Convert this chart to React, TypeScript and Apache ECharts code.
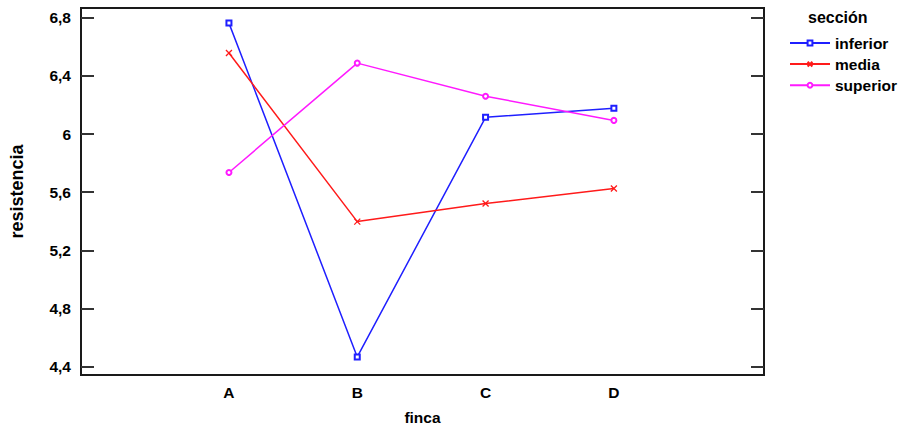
import React, { useEffect, useRef } from "react";
import * as echarts from "echarts";

const categories = ["A", "B", "C", "D"];
const seriesNames = ["inferior", "media", "superior"];
const inferior = [6.763, 4.467, 6.115, 6.178];
const media = [6.557, 5.398, 5.522, 5.626];
const superior = [5.736, 6.488, 6.26, 6.094];
const yTicks = [4.4, 4.8, 5.2, 5.6, 6.0, 6.4, 6.8];
const xTicks = [0, 1, 2, 3];

const FONT = "'Liberation Sans', Arial, sans-serif";

export default function App() {
  const ref = useRef<HTMLDivElement>(null);
  useEffect(() => {
    if (!ref.current) return;
    const chart = echarts.init(ref.current, null, { renderer: "svg" });
    const mk = (vals: number[]) => vals.map((v, i) => [i, v]);
    const xPath = "path://M0,0L10,10M10,0L0,10";
    const fmtY = (v: number) => {
      const r = Math.round(v * 10) / 10;
      return Math.abs(r - Math.round(r)) < 1e-9 ? String(Math.round(r)) : r.toFixed(1).replace(".", ",");
    };
    chart.setOption({
      animation: false,
      backgroundColor: "#ffffff",
      grid: {
        left: 81,
        right: 143,
        top: 8,
        bottom: 53,
        show: true,
        borderColor: "#1a1a1a",
        borderWidth: 2,
        backgroundColor: "transparent",
        outerBoundsMode: "none",
        containLabel: false,
      },
      graphic: [
        {
          type: "text",
          left: 808,
          top: 9,
          style: {
            text: "sección",
            font: `bold 16px ${FONT}`,
            fill: "#000",
          },
        },
      ],
      legend: {
        orient: "vertical",
        left: 789,
        top: 35,
        padding: 0,
        itemWidth: 40,
        itemHeight: 6,
        itemGap: 5.1,
        itemTextGap: 16,
        data: seriesNames,
        textStyle: {
          fontFamily: FONT,
          fontWeight: "bold",
          fontSize: 15.5,
          color: "#000",
        },
      },
      xAxis: {
        type: "value",
        min: -1.153,
        max: 4.17,
        name: "finca",
        nameLocation: "middle",
        nameGap: 34,
        nameMoveOverlap: false,
        nameTextStyle: {
          fontFamily: FONT,
          fontWeight: "bold",
          fontSize: 15.5,
          color: "#000",
          verticalAlign: "top",
        },
        axisLine: { show: true, onZero: false, lineStyle: { color: "#1a1a1a", width: 2 } },
        axisTick: { show: false },
        splitLine: { show: false },
        axisLabel: {
          customValues: xTicks,
          formatter: (v: number) => categories[Math.round(v)] ?? "",
          margin: 9,
          fontFamily: FONT,
          fontWeight: "bold",
          fontSize: 15.5,
          color: "#000",
        },
      },
      yAxis: [
        {
          type: "value",
          min: 4.343,
          max: 6.867,
          name: "resistencia",
          nameLocation: "middle",
          nameGap: 55,
          nameRotate: 90,
          nameMoveOverlap: false,
          nameTextStyle: {
            fontFamily: FONT,
            fontWeight: "bold",
            fontSize: 18,
            color: "#000",
          },
          axisLine: { show: true, onZero: false, lineStyle: { color: "#1a1a1a", width: 2 } },
          axisTick: {
            show: true,
            inside: true,
            length: 13,
            customValues: yTicks,
            lineStyle: { color: "#333", width: 2 },
          },
          splitLine: { show: false },
          axisLabel: {
            customValues: yTicks,
            formatter: fmtY,
            margin: 10,
            fontFamily: FONT,
            fontWeight: "bold",
            fontSize: 15.5,
            color: "#000",
          },
        },
        {
          type: "value",
          position: "right",
          min: 4.343,
          max: 6.867,
          axisLine: { show: true, onZero: false, lineStyle: { color: "#1a1a1a", width: 2 } },
          axisTick: {
            show: true,
            inside: true,
            length: 13,
            customValues: yTicks,
            lineStyle: { color: "#333", width: 2 },
          },
          splitLine: { show: false },
          axisLabel: { show: false },
        },
      ],
      series: [
        {
          name: "inferior",
          type: "line",
          data: mk(inferior),
          symbol: "emptyRect",
          symbolSize: 5,
          lineStyle: { color: "#1f1fff", width: 1.5 },
          itemStyle: { color: "#1f1fff", borderWidth: 1.2 },
        },
        {
          name: "media",
          type: "line",
          data: mk(media),
          symbol: xPath,
          symbolSize: 6,
          lineStyle: { color: "#ff1a1a", width: 1.5 },
          itemStyle: { color: "#ff1a1a", borderColor: "#ff1a1a", borderWidth: 1.3 },
        },
        {
          name: "superior",
          type: "line",
          data: mk(superior),
          symbol: "emptyCircle",
          symbolSize: 5,
          lineStyle: { color: "#ff1aff", width: 1.5 },
          itemStyle: { color: "#ff1aff", borderWidth: 1.2 },
        },
      ],
    });
    return () => chart.dispose();
  }, []);
  return (
    <div
      ref={ref}
      style={{ position: "fixed", left: 0, top: 0, width: 907, height: 428 }}
    />
  );
}
